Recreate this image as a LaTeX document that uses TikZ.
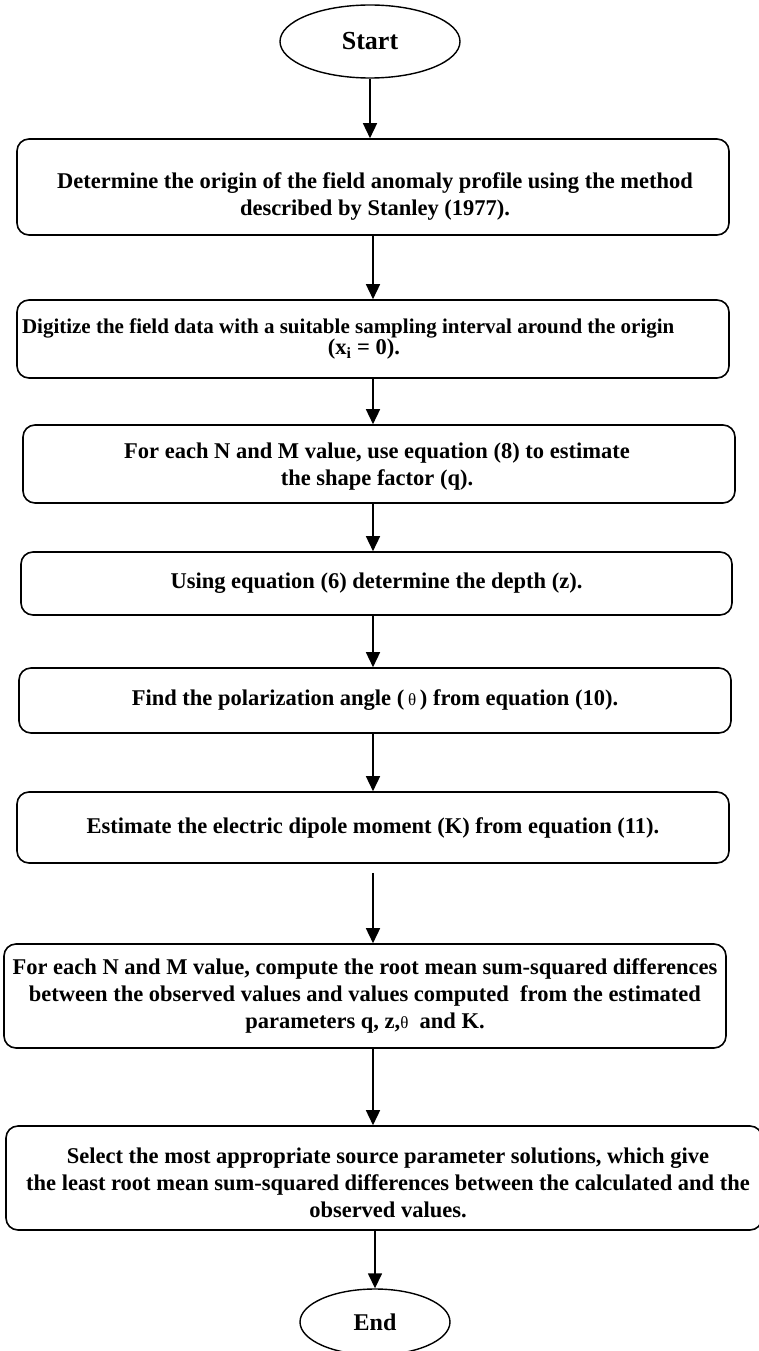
\documentclass[tikz,border=0pt]{standalone}
\usepackage{fontspec}
\setmainfont{Liberation Serif}
\usetikzlibrary{arrows.meta,shapes.geometric}
\newcommand{\thsym}{{\mdseries\fontsize{17}{20}\selectfont θ}}
\begin{document}
\begin{tikzpicture}[x=1pt,y=-1pt,
  stepbox/.style={draw=black, line width=1.6pt, rounded corners=12pt, align=center,
    inner sep=0pt, font=\bfseries\fontsize{22.5}{27}\selectfont},
  steptext/.style={align=center, inner sep=0pt, font=\bfseries\fontsize{22.5}{27}\selectfont},
  terminal/.style={draw=black, line width=1.4pt, ellipse, inner sep=0pt,
    font=\bfseries\fontsize{26}{28}\selectfont},
  arr/.style={line width=1.5pt, -{Triangle[length=15pt,width=14pt]}}]
\useasboundingbox (0,0) rectangle (758,1351);
\fill[white] (0,0) rectangle (758,1351);

\node[terminal, minimum width=180pt, minimum height=73pt] (start) at (370,41.5) {Start};

\node[stepbox, minimum width=712pt, minimum height=96pt] (b1) at (373,187) {};
\node[steptext] (t1) at (375,197)
  {Determine the origin of the field anomaly profile using the method\\described by Stanley (1977).};

\node[stepbox, minimum width=712pt, minimum height=78pt,
  font=\bfseries\fontsize{22.5}{20}\selectfont] (b2) at (373,339)
  {\makebox[712pt][l]{\hspace{5pt}\fontsize{21}{21}\selectfont Digitize the field data with a suitable sampling interval around the origin}\\
   \hspace*{-18pt}(x\textsubscript{i} = 0).};

\node[stepbox, minimum width=712pt, minimum height=78pt] (b3) at (379,464) {};
\node[steptext] (t3) at (377,467)
  {For each N and M value, use equation (8) to estimate\\the shape factor (q).};

\node[stepbox, minimum width=711pt, minimum height=63pt] (b4) at (376.5,583.5)
  {Using equation (6) determine the depth (z).};

\node[stepbox, minimum width=712pt, minimum height=65pt] (b5) at (375,700.5)
  {Find the polarization angle (\,\thsym\,) from equation (10).};

\node[stepbox, minimum width=712pt, minimum height=71pt] (b6) at (373,827.5)
  {Estimate the electric dipole moment (K) from equation (11).};

\node[stepbox, minimum width=722pt, minimum height=104pt] (b7) at (365,996)
  {For each N and M value, compute the root mean sum-squared differences\\
   between the observed values and values computed\ \ from the estimated\\
   parameters q, z,\thsym\ \ and K.};

\node[stepbox, minimum width=756pt, minimum height=104pt] (b8) at (384,1178) {};
\node[steptext] (t8) at (388,1183)
  {Select the most appropriate source parameter solutions, which give\\
   the least root mean sum-squared differences between the calculated and the\\
   observed values.};

\node[terminal, minimum width=150pt, minimum height=66pt, font=\bfseries\fontsize{24}{26}\selectfont] (end) at (375,1322) {End};

\draw[arr] (start.south) -- (start.south |- b1.north);
\draw[arr] (b1.south) -- (b1.south |- b2.north);
\draw[arr] (b2.south) -- (b2.south |- b3.north);
\draw[arr] (b3.south -| b2.south) -- (b2.south |- b4.north);
\draw[arr] (b4.south -| b2.south) -- (b2.south |- b5.north);
\draw[arr] (b5.south -| b2.south) -- (b2.south |- b6.north);
\draw[arr, shorten <=9pt] (b6.south) -- (b6.south |- b7.north);
\draw[arr] (b7.south -| b6.south) -- (b6.south |- b8.north);
\draw[arr] (b8.south -| end.north) -- (end.north);
\end{tikzpicture}
\end{document}
